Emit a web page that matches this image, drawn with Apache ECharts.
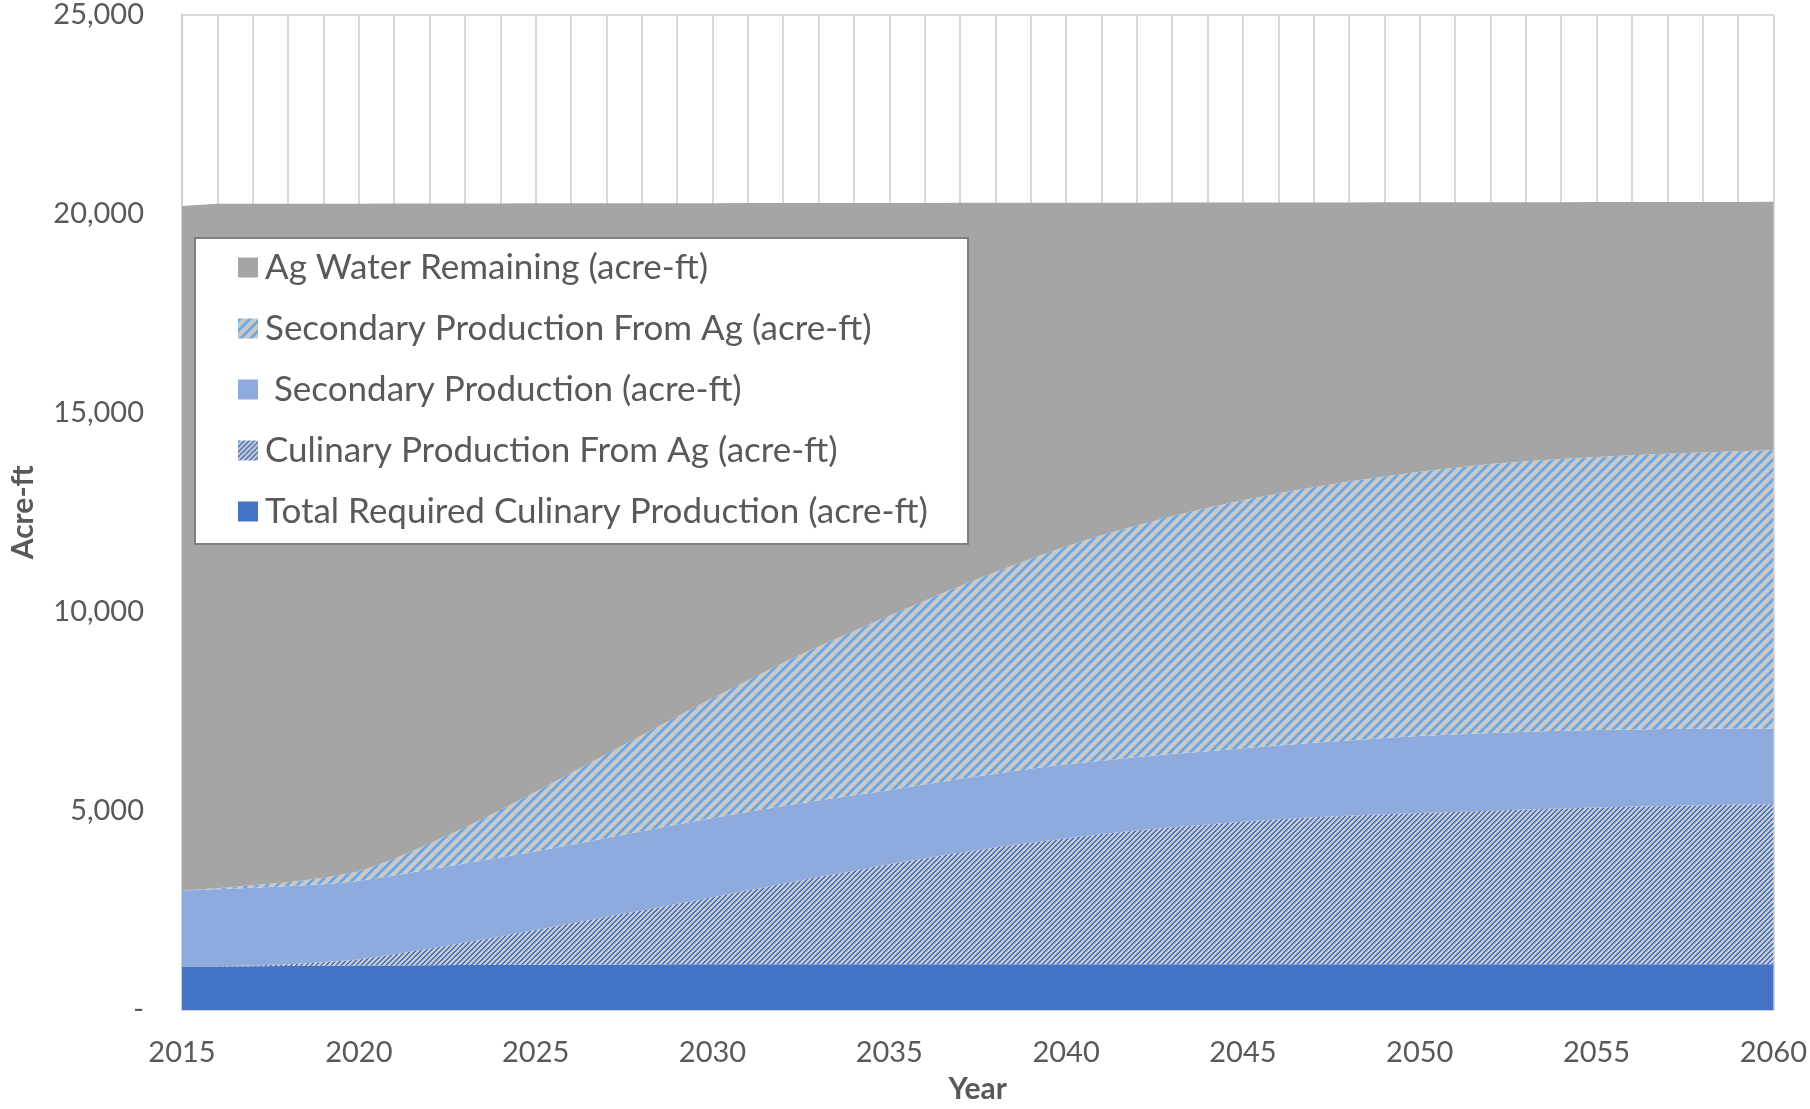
<!DOCTYPE html>
<html>
<head>
<meta charset="utf-8">
<script src="https://cdn.jsdelivr.net/npm/echarts@6/dist/echarts.min.js"></script>
<style>
html,body{margin:0;padding:0;background:#fff;overflow:hidden;width:100%;height:100%;}
#chart{width:100vw;height:100vh;}
</style>
</head>
<body>
<div id="chart"></div>
<script>
// ---- data ----
const years = [2015,2016,2017,2018,2019,2020,2021,2022,2023,2024,2025,2026,2027,2028,2029,2030,2031,2032,2033,2034,2035,2036,2037,2038,2039,2040,2041,2042,2043,2044,2045,2046,2047,2048,2049,2050,2051,2052,2053,2054,2055,2056,2057,2058,2059,2060];

const totalRequiredCulinary = [1090,1095,1100,1105,1110,1115,1120,1124,1128,1132,1135,1138,1141,1144,1146,1148,1150,1150,1150,1150,1150,1150,1150,1150,1150,1150,1150,1150,1150,1150,1150,1150,1150,1150,1150,1150,1150,1150,1150,1150,1150,1150,1150,1150,1150,1150];

const culinaryFromAg = [0,5,20,45,90,155,280,416,562,718,875,1032,1199,1356,1514,1682,1850,2020,2190,2350,2510,2660,2800,2930,3050,3160,3270,3360,3440,3510,3580,3640,3690,3730,3765,3795,3825,3855,3885,3910,3935,3955,3975,3995,4010,4020];

const secondaryProduction = [1910,1930,1950,1960,1960,1970,1980,1990,1990,1980,1970,1980,1980,1990,2000,1990,1970,1950,1920,1895,1860,1850,1850,1850,1860,1860,1840,1840,1840,1840,1840,1850,1870,1890,1915,1935,1945,1950,1950,1950,1945,1940,1930,1917,1908,1902];

const secondaryFromAg = [0,30,60,100,160,240,420,650,900,1190,1500,1800,2100,2410,2710,3010,3310,3600,3870,4125,4380,4620,4850,5070,5270,5470,5660,5820,5970,6110,6230,6330,6420,6500,6570,6640,6700,6755,6795,6830,6860,6885,6915,6938,6962,6983];

const agWaterRemaining = [17190,17185,17116,17038,16929,16770,16452,16073,15674,15236,14777,14308,13839,13360,12892,12433,11984,11545,11136,10747,10368,9989,9620,9271,8942,8633,8354,8105,7876,7667,7478,7309,7150,7011,6882,6763,6665,6576,6507,6448,6399,6360,6321,6292,6263,6240];

const seriesNames = [
  'Total Required Culinary Production (acre-ft)',
  'Culinary Production From Ag (acre-ft)',
  ' Secondary Production (acre-ft)',
  'Secondary Production From Ag (acre-ft)',
  'Ag Water Remaining (acre-ft)'
];
const legendOrder = [seriesNames[4], seriesNames[3], seriesNames[2], seriesNames[1], seriesNames[0]];
const yTicks = {min: 0, max: 25000, interval: 5000};

// ---- styles ----
function hexToRgb(h){h=h.replace('#','');return [parseInt(h.substr(0,2),16),parseInt(h.substr(2,2),16),parseInt(h.substr(4,2),16)];}
function stripes(bg, fg, period, width){
  const c = document.createElement('canvas');
  c.width = period; c.height = period;
  const ctx = c.getContext('2d');
  const img = ctx.createImageData(period, period);
  const b = hexToRgb(bg), f = hexToRgb(fg);
  for (let y=0;y<period;y++){
    for (let x=0;x<period;x++){
      const k = (x + y) % period;
      const col = k < width ? f : b;
      const i = (y*period + x)*4;
      img.data[i]=col[0]; img.data[i+1]=col[1]; img.data[i+2]=col[2]; img.data[i+3]=255;
    }
  }
  ctx.putImageData(img,0,0);
  return c;
}
const patSecAg = {image: stripes('#c8c8c8', '#6fa8e0', 10, 4), repeat: 'repeat'};
const patCulAg = {image: stripes('#c9c9c9', '#4472c4', 5, 2), repeat: 'repeat'};

const fills = [ '#4472c4', patCulAg, '#8faadc', patSecAg, '#a5a5a5' ];
const dataArrays = [totalRequiredCulinary, culinaryFromAg, secondaryProduction, secondaryFromAg, agWaterRemaining];

const FONT = 'Lato, "Open Sans", sans-serif';
const TXT = '#595959';

const chart = echarts.init(document.getElementById('chart'), null, {renderer: 'canvas'});

const series = dataArrays.map((d, i) => ({
  name: seriesNames[i],
  type: 'line',
  stack: 'total',
  data: d,
  symbol: 'none',
  showSymbol: false,
  smooth: false,
  lineStyle: {width: 0, color: fills[i]},
  itemStyle: {color: fills[i]},
  areaStyle: {color: fills[i], opacity: 1},
  emphasis: {disabled: true},
  z: 2
}));

chart.setOption({
  animation: false,
  backgroundColor: '#ffffff',
  grid: {left: 168, right: 24, top: 10, bottom: 72, containLabel: false},
  graphic: [{
    type: 'rect',
    left: 194, top: 237,
    shape: {width: 773, height: 306},
    style: {fill: '#ffffff', stroke: '#7f7f7f', lineWidth: 2},
    z: 10
  }],
  legend: {
    data: legendOrder,
    orient: 'vertical',
    left: 238, top: 250,
    padding: 0,
    itemWidth: 20, itemHeight: 20,
    itemGap: 26,
    icon: 'rect',
    selectedMode: false,
    textStyle: {fontFamily: FONT, fontSize: 35, color: TXT, lineHeight: 35, padding: [0,0,0,2]},
    z: 11
  },
  xAxis: {
    type: 'category',
    data: years,
    boundaryGap: false,
    name: 'Year',
    nameLocation: 'middle',
    nameGap: 64,
    nameTextStyle: {fontFamily: FONT, fontSize: 30, fontWeight: 'bold', color: TXT},
    axisLine: {show: true, lineStyle: {color: '#d0d0d0', width: 2}},
    axisTick: {show: false},
    axisLabel: {interval: 4, fontFamily: FONT, fontSize: 29, color: TXT, margin: 28},
    splitLine: {show: true, interval: 0, lineStyle: {color: '#d9d9d9', width: 2}}
  },
  yAxis: {
    type: 'value',
    min: yTicks.min, max: yTicks.max, interval: yTicks.interval,
    name: 'Acre-ft',
    nameLocation: 'middle',
    nameRotate: 90,
    nameGap: 144,
    nameTextStyle: {fontFamily: FONT, fontSize: 30, fontWeight: 'bold', color: TXT},
    axisLine: {show: true, lineStyle: {color: '#d0d0d0', width: 2}},
    axisTick: {show: false},
    axisLabel: {
      fontFamily: FONT, fontSize: 29, color: TXT, margin: 38,
      formatter: v => v === 0 ? '-' : v.toLocaleString('en-US')
    },
    splitLine: {show: true, lineStyle: {color: '#d9d9d9', width: 2}}
  },
  series: series
});
</script>
</body>
</html>
